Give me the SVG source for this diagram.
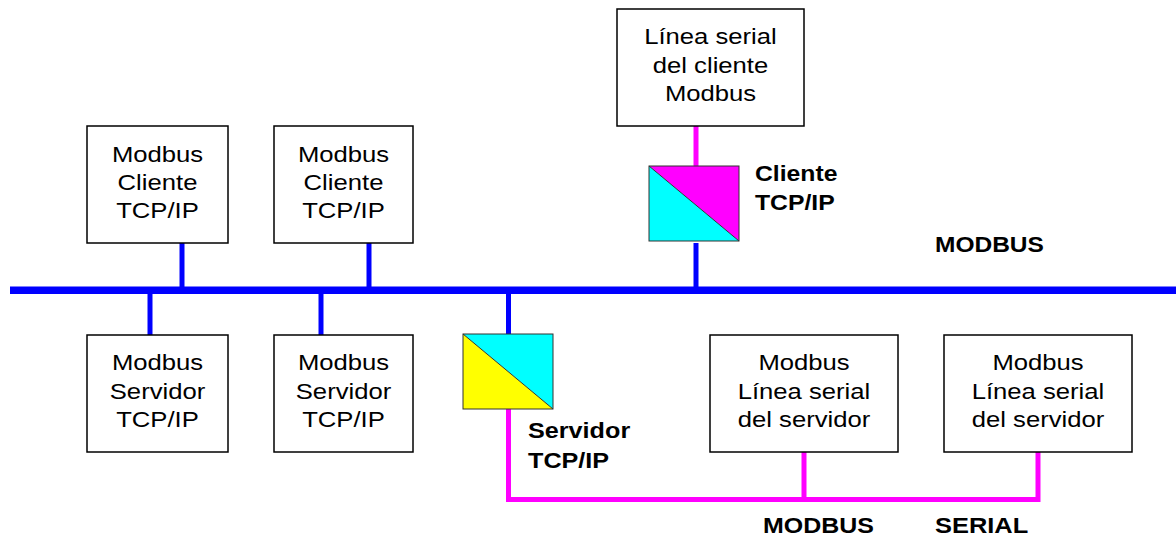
<svg xmlns="http://www.w3.org/2000/svg" width="1176" height="538" viewBox="0 0 1176 538">
<style>
.box{fill:#fff;stroke:#000;stroke-width:1.5}
.t{font-family:"Liberation Sans",Arial,sans-serif;font-size:22.5px;fill:#000;text-anchor:middle}
.b{font-family:"Liberation Sans",Arial,sans-serif;font-size:22.5px;font-weight:bold;fill:#000}
.blue{stroke:#0000FF;stroke-width:5;fill:none}
.pink{stroke:#FF00FF;stroke-width:5;fill:none}
.conv{stroke:#333;stroke-width:1}
</style>
<rect width="1176" height="538" fill="#fff"/>
<g id="connectors">
  <rect x="10" y="286.5" width="1166" height="7.5" fill="#0000FF"/>
  <line class="blue" x1="182" y1="243" x2="182" y2="290"/>
  <line class="blue" x1="369" y1="243" x2="369" y2="290"/>
  <line class="blue" x1="150" y1="290" x2="150" y2="335"/>
  <line class="blue" x1="321" y1="290" x2="321" y2="335"/>
  <line class="blue" x1="696" y1="243" x2="696" y2="290"/>
  <line class="blue" x1="508.5" y1="290" x2="508.5" y2="334"/>
  <line class="pink" x1="696" y1="126" x2="696" y2="166"/>
  <polyline class="pink" points="508.5,409 508.5,499.5 1038,499.5"/>
  <line class="pink" x1="804" y1="452" x2="804" y2="499.5"/>
  <line class="pink" x1="1038" y1="452" x2="1038" y2="502"/>
</g>
<g id="client1">
  <rect class="box" x="87" y="126" width="141" height="117"/>
  <text class="t" transform="translate(157.5,161.7) scale(1.14,1)"><tspan x="0">Modbus</tspan><tspan x="0" dy="28.3">Cliente</tspan><tspan x="0" dy="28.3">TCP/IP</tspan></text>
</g>
<g id="client2">
  <rect class="box" x="274" y="126" width="139" height="117"/>
  <text class="t" transform="translate(343.5,161.7) scale(1.14,1)"><tspan x="0">Modbus</tspan><tspan x="0" dy="28.3">Cliente</tspan><tspan x="0" dy="28.3">TCP/IP</tspan></text>
</g>
<g id="server1">
  <rect class="box" x="87" y="335" width="141" height="117"/>
  <text class="t" transform="translate(157.5,370) scale(1.14,1)"><tspan x="0">Modbus</tspan><tspan x="0" dy="28.7">Servidor</tspan><tspan x="0" dy="28.7">TCP/IP</tspan></text>
</g>
<g id="server2">
  <rect class="box" x="274" y="335" width="139" height="117"/>
  <text class="t" transform="translate(343.5,370) scale(1.14,1)"><tspan x="0">Modbus</tspan><tspan x="0" dy="28.7">Servidor</tspan><tspan x="0" dy="28.7">TCP/IP</tspan></text>
</g>
<g id="serialClient">
  <rect class="box" x="617" y="9" width="187" height="117"/>
  <text class="t" transform="translate(710.5,44) scale(1.14,1)"><tspan x="0">Línea serial</tspan><tspan x="0" dy="28.7">del cliente</tspan><tspan x="0" dy="28.7">Modbus</tspan></text>
</g>
<g id="serialServer1">
  <rect class="box" x="710" y="335" width="188" height="117"/>
  <text class="t" transform="translate(804,370) scale(1.14,1)"><tspan x="0">Modbus</tspan><tspan x="0" dy="28.7">Línea serial</tspan><tspan x="0" dy="28.7">del servidor</tspan></text>
</g>
<g id="serialServer2">
  <rect class="box" x="944" y="335" width="188" height="117"/>
  <text class="t" transform="translate(1038,370) scale(1.14,1)"><tspan x="0">Modbus</tspan><tspan x="0" dy="28.7">Línea serial</tspan><tspan x="0" dy="28.7">del servidor</tspan></text>
</g>
<g id="gatewayClient">
  <polygon points="649,166 739,166 739,241" fill="#FF00FF"/>
  <polygon points="649,166 739,241 649,241" fill="#00FFFF"/>
  <rect x="649" y="166" width="90" height="75" fill="none" class="conv"/>
  <line x1="649" y1="166" x2="739" y2="241" class="conv"/>
  <text class="b" transform="translate(755,181) scale(1.1,1)"><tspan x="0">Cliente</tspan><tspan x="0" dy="29">TCP/IP</tspan></text>
</g>
<g id="gatewayServer">
  <polygon points="463,334 553,334 553,409" fill="#00FFFF"/>
  <polygon points="463,334 553,409 463,409" fill="#FFFF00"/>
  <rect x="463" y="334" width="90" height="75" fill="none" class="conv"/>
  <line x1="463" y1="334" x2="553" y2="409" class="conv"/>
  <text class="b" transform="translate(528,438.3) scale(1.12,1)"><tspan x="0">Servidor</tspan><tspan x="0" dy="30">TCP/IP</tspan></text>
</g>
<g id="labels">
  <text class="b" transform="translate(935,251.7) scale(1.09,1)">MODBUS</text>
  <text class="b" transform="translate(763,533) scale(1.11,1)">MODBUS</text>
  <text class="b" transform="translate(935,533) scale(1.13,1)">SERIAL</text>
</g>
</svg>
